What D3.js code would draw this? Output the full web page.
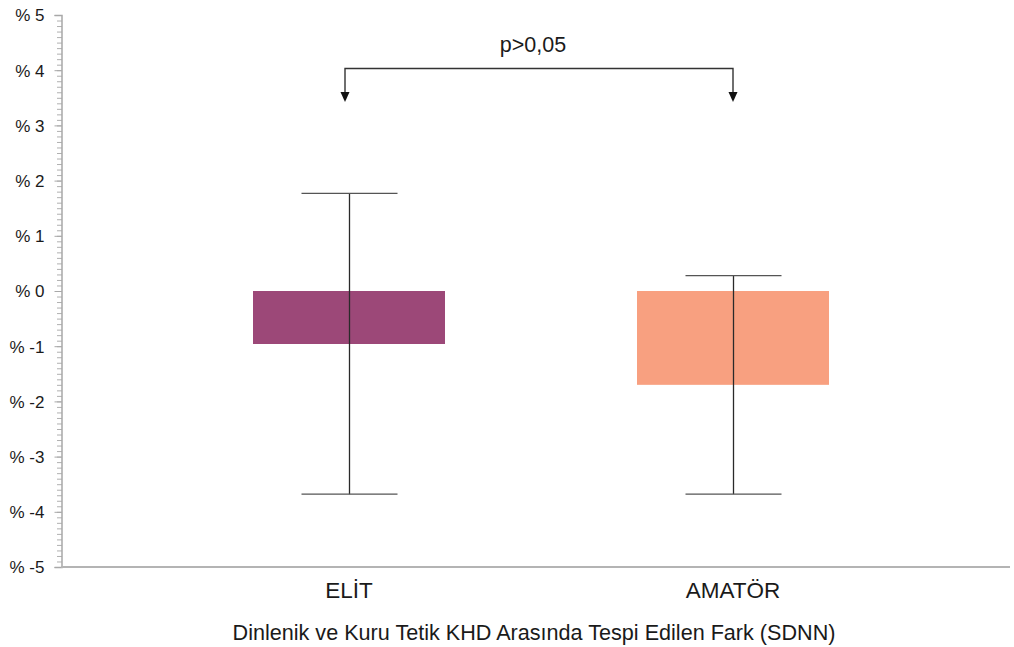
<!DOCTYPE html>
<html><head><meta charset="utf-8">
<script src="https://cdn.jsdelivr.net/npm/d3@7"></script>
<style>body{margin:0;background:#fff}svg{display:block}text{font-family:Arial,"Liberation Sans",sans-serif;fill:#1a1a1a}</style>
</head><body><svg id="c" width="1014" height="647"></svg>
<script>
const categories = ["ELİT", "AMATÖR"];
const means = [-0.96, -1.70];
const errHigh = [1.77, 0.28];
const errLow = [-3.68, -3.68];
const colors = ["#9c4878", "#f8a080"];
const yTicks = [5,4,3,2,1,0,-1,-2,-3,-4,-5];
const xTitle = "Dinlenik ve Kuru Tetik KHD Arasında Tespi Edilen Fark (SDNN)";
const pLabel = "p>0,05";

const svg = d3.select("#c");
const y = d3.scaleLinear().domain([-5,5]).range([567,15]);
const x = d3.scalePoint().domain(categories).range([61,1021]).padding(0.75);
const barW = x.step()*0.5;
const capW = x.step()*0.25;

// minor ticks
const minor = d3.range(-50,51).map(d=>d/10);
svg.append("g").selectAll("line").data(minor).join("line")
  .attr("x1",57).attr("x2",62).attr("y1",d=>y(d)+0.5).attr("y2",d=>y(d)+0.5)
  .attr("stroke","#b0b0b0").attr("stroke-width",1);
// y axis
const ya = svg.append("g").attr("transform","translate(61.5,0)")
  .call(d3.axisLeft(y).tickValues(yTicks).tickSize(7).tickFormat(d=>"% "+d));
ya.select(".domain").attr("stroke","#a8a8a8").attr("stroke-width",1.5);
ya.selectAll(".tick line").attr("stroke","#a8a8a8");
ya.selectAll(".tick text").attr("x",-17).attr("dy","0.35em")
  .style("font-size","17px").style("font-family","Arial, 'Liberation Sans', sans-serif").attr("fill","#1a1a1a");

// x axis line
svg.append("line").attr("x1",61).attr("x2",1010).attr("y1",y(-5)).attr("y2",y(-5))
  .attr("stroke","#b4b4b4").attr("stroke-width",2);

// bars
svg.append("g").selectAll("rect").data(categories).join("rect")
  .attr("x",d=>x(d)-barW/2).attr("width",barW)
  .attr("y",(d,i)=>y(Math.max(0,means[i])))
  .attr("height",(d,i)=>Math.abs(y(means[i])-y(0)))
  .attr("fill",(d,i)=>colors[i]);

// error bars
const eg = svg.append("g").attr("stroke","#2a2a2a").attr("stroke-width",1.3);
categories.forEach((c,i)=>{
  const cx = Math.round(x(c))+0.5;
  eg.append("line").attr("x1",cx).attr("x2",cx).attr("y1",y(errHigh[i])).attr("y2",y(errLow[i]));
  eg.append("line").attr("x1",cx-capW/2).attr("x2",cx+capW/2).attr("y1",y(errHigh[i])).attr("y2",y(errHigh[i])).attr("stroke","#555");
  eg.append("line").attr("x1",cx-capW/2).attr("x2",cx+capW/2).attr("y1",y(errLow[i])).attr("y2",y(errLow[i])).attr("stroke","#555");
});

// category labels
svg.append("g").selectAll("text").data(categories).join("text")
  .attr("x",d=>x(d)).attr("y",598).attr("text-anchor","middle")
  .style("font-size","22.5px").text(d=>d);

// x title
svg.append("text").attr("x",534).attr("y",640).attr("text-anchor","middle")
  .style("font-size","21.6px").text(xTitle);

// significance bracket
const bx1 = x(categories[0]) - 4, bx2 = x(categories[1]);
const by = 68.5, tipY = 102;
svg.append("path").attr("d",`M${bx1},${tipY-9}V${by}H${bx2}V${tipY-9}`)
  .attr("fill","none").attr("stroke","#333").attr("stroke-width",1.4);
[bx1,bx2].forEach(bx=>{
  svg.append("path").attr("d",`M${bx-4.5},${tipY-10}L${bx+4.5},${tipY-10}L${bx},${tipY}Z`).attr("fill","#111");
});
svg.append("text").attr("x",533).attr("y",52).attr("text-anchor","middle")
  .style("font-size","21.5px").text(pLabel);
</script></body></html>
